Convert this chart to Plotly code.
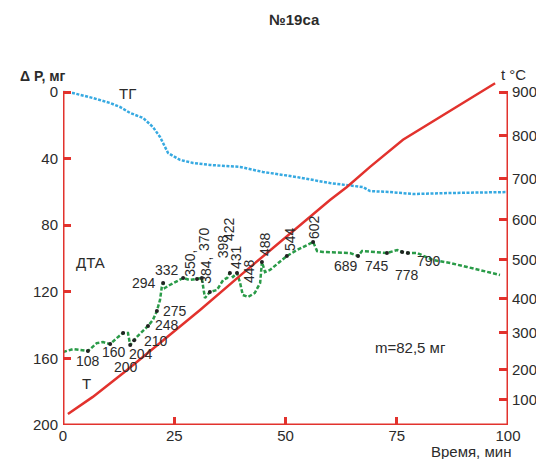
import numpy as np
import plotly.graph_objects as go

# ---------------- data ----------------
# TG curve: time (min) vs mass loss ΔP (mg)
TG_TIME = [0, 2.2, 6.7, 10.6, 12.8, 15.1, 18.0, 20.2, 21.8, 22.9, 23.6, 26.3, 29.2,
           33.0, 39.8, 44.9, 52.6, 60.0, 67.4, 69.0, 73.5, 78.7, 86.3, 99.8]
TG_LOSS = [0, 0.6, 3.6, 6.6, 9.0, 12.6, 15.6, 21.0, 27.0, 33.0, 36.6, 40.8, 42.6,
           43.8, 45.0, 48.0, 51.1, 54.7, 57.1, 59.5, 60.1, 61.3, 60.7, 60.1]

# DTA curve (plotted against the left scale)
DTA_TIME = [0.0, 2.25, 5.6, 7.6, 9.0, 10.6, 12.4, 13.5, 14.6, 15.1, 16.6, 19.1, 20.2,
            21.1, 21.8, 22.2, 22.5, 22.9, 24.0, 27.0, 28.5, 30.1, 31.2, 31.5, 31.9,
            33.0, 34.6, 36.0, 36.9, 37.5, 38.2, 39.1, 39.8, 40.4, 41.6, 43.1, 44.3,
            44.7, 45.4, 46.5, 50.3, 52.6, 54.8, 56.2, 57.1, 58.4, 64.5, 66.3, 67.2,
            71.9, 72.8, 75.1, 76.2, 77.5, 79.6, 83.1, 87.0, 90.8, 98.2]
DTA_SIGNAL = [156.2, 154.4, 155.6, 150.8, 150.2, 151.4, 147.1, 144.7, 144.7, 152.0,
              147.1, 140.5, 136.9, 131.5, 124.9, 117.1, 114.7, 117.7, 115.9, 111.7,
              112.9, 112.3, 111.7, 117.1, 123.7, 120.1, 118.9, 112.9, 111.7, 108.7,
              111.1, 108.7, 114.7, 121.9, 123.1, 120.7, 114.7, 102.1, 108.1, 106.9,
              98.5, 94.9, 91.9, 90.1, 95.5, 96.1, 96.7, 98.5, 95.5, 96.7, 96.7, 94.9,
              96.1, 96.7, 96.7, 100.9, 102.7, 105.1, 109.9]

# Temperature curve: time (min) vs t (°C)
T_TIME = [1.1, 6.7, 14.4, 21.8, 25.2, 30.8, 40.0, 55.1, 60.0, 63.8, 69.0, 76.4, 84.9, 97.1]
T_CELSIUS = [43, 108, 198, 272, 308, 366, 460, 605, 648, 679, 727, 791, 844, 920]

# marked points on the DTA curve
DTA_DOT_TIME = [5.6, 10.6, 13.5, 15.1, 16.0, 19.1, 21.1, 22.5, 27.0, 30.1, 31.2, 33.0,
                37.5, 39.1, 44.7, 50.3, 56.2, 66.3, 72.8, 76.2, 77.5]

# temperature labels of DTA effects
PEAK_LABELS = ["108", "160", "200", "204", "210", "248", "275", "294", "332", "350,",
               "384,", "370", "398", "422", "431", "448", "488", "544", "602",
               "689", "745", "778", "790"]

# right (temperature) scale ticks
T_TICKS = [100, 200, 300, 400, 500, 600, 700, 800, 900]

# ---------------- layout / style ----------------
# the printed temperature scale is not uniform; positions of its ticks on the frame
T_SCALE_C = [0] + T_TICKS + [1000]
T_SCALE_POS = [0, 69.5, 150.5, 249.5, 342.4, 447.8, 554.1, 666.8, 781.1, 900, 1019]


def t_axis(vals):
    return np.interp(vals, T_SCALE_C, T_SCALE_POS)


# label placement (time, ΔP-scale position, angle)
LABEL_POS = [(5.6, 161.6, 0), (11.5, 156.4, 0), (14.2, 165.2, 0), (17.6, 157.2, 0),
             (20.9, 149.4, 0), (23.4, 139.9, 0), (25.2, 131.6, 0), (18.2, 114.7, 0),
             (23.4, 106.9, 0), (28.5, 102.7, -90), (32.1, 106.9, -90), (31.7, 88.3, -90),
             (36.0, 92.5, -90), (37.3, 82.3, -90), (38.9, 99.1, -90), (41.8, 107.5, -90),
             (45.4, 91.3, -90), (51.0, 88.3, -90), (56.4, 81.1, -90), (63.6, 104.5, 0),
             (70.6, 104.5, 0), (77.3, 109.9, 0), (82.2, 101.5, 0)]

RED = "#e2322d"
BLUE = "#36a9e1"
GREEN = "#2a9b48"
TXT = "#2b2b2b"
FONT = "Arial, Liberation Sans, sans-serif"

fig = go.Figure()

fig.add_trace(go.Scatter(x=TG_TIME, y=TG_LOSS, mode="lines",
                         line=dict(color=BLUE, width=2.5, dash="3px,1.5px"),
                         hoverinfo="skip"))
fig.add_trace(go.Scatter(x=DTA_TIME, y=DTA_SIGNAL, mode="lines",
                         line=dict(color=GREEN, width=2.5, dash="4px,2px"),
                         hoverinfo="skip"))
dot_y = np.interp(DTA_DOT_TIME, DTA_TIME, DTA_SIGNAL)
fig.add_trace(go.Scatter(x=DTA_DOT_TIME, y=dot_y, mode="markers",
                         marker=dict(color="#222222", size=4), hoverinfo="skip"))
fig.add_trace(go.Scatter(x=T_TIME, y=t_axis(T_CELSIUS), mode="lines", yaxis="y2",
                         line=dict(color=RED, width=2.5), hoverinfo="skip"))

# frame lines
for x0, y0, x1, y1 in [(0, 0, 0, 200), (0, 200, 100, 200), (100, 0, 100, 200)]:
    fig.add_shape(type="line", xref="x", yref="y", x0=x0, y0=y0, x1=x1, y1=y1,
                  line=dict(color=RED, width=3), layer="above")


def note(text, x, y, ref="data", size=15, angle=0):
    xr, yr = ("x", "y") if ref == "data" else ("paper", "paper")
    return dict(x=x, y=y, xref=xr, yref=yr, text=text, showarrow=False,
                xanchor="center", yanchor="middle", textangle=angle,
                font=dict(size=size, color=TXT, family=FONT))


annotations = [note(txt, lx, ly, size=14, angle=ang)
               for txt, (lx, ly, ang) in zip(PEAK_LABELS, LABEL_POS)]
annotations += [note("ТГ", 14.6, 1.0), note("ДТА", 6.1, 102.1), note("Т", 5.2, 174.8),
                note("m=82,5 мг", 78.0, 153.2)]
annotations += [
    note("<b>№19са</b>", 0.521, 1.174, ref="paper", size=15),
    note("<b>Δ P, мг</b>", -0.045, 1.012, ref="paper", size=14),
    note("t °C", 1.013, 1.017, ref="paper", size=15),
    note("Время, мин", 0.917, -0.078, ref="paper", size=15),
]

tickfont = dict(size=15, color=TXT, family=FONT)
common = dict(ticks="inside", tickwidth=2.5, tickcolor=RED, showgrid=False,
              zeroline=False, showline=False, tickfont=tickfont, fixedrange=True,
              automargin=False)
# the page body adds an 8 px offset, so the figure is made 8 px smaller
fig.update_layout(
    width=536, height=451,
    margin=dict(l=55, r=36, t=72, b=34, autoexpand=False),
    paper_bgcolor="white", plot_bgcolor="white",
    showlegend=False,
    xaxis=dict(range=[0, 100], tickvals=[0, 25, 50, 75, 100], ticklen=8, **common),
    yaxis=dict(range=[200, -200 * 12 / 333], tickvals=[0, 40, 80, 120, 160, 200],
               ticklen=8, ticklabelstandoff=4, **common),
    yaxis2=dict(overlaying="y", side="right", range=[0, 900 * 345 / 333],
                tickvals=list(t_axis(T_TICKS)), ticktext=[str(v) for v in T_TICKS],
                ticklen=9, ticklabelstandoff=3, **common),
    annotations=annotations,
)

fig.write_html("out.html")
